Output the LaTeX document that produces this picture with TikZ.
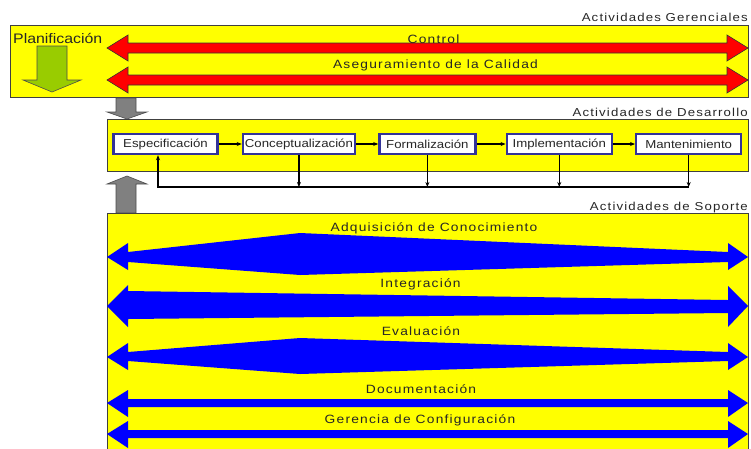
\documentclass[tikz,border=0pt]{standalone}
\usepackage{fontspec}
\setmainfont{Liberation Sans}[FakeStretch=1.15]
\newfontfamily\headfont{Liberation Sans}[FakeStretch=1.15,LetterSpace=10]
\usepackage{xcolor}
\usepackage{tikz}
\usetikzlibrary{arrows.meta,positioning,calc}

\definecolor{actyellow}{RGB}{255,255,0}
\definecolor{actblue}{RGB}{0,0,255}
\definecolor{actred}{RGB}{255,0,0}
\definecolor{actgreen}{RGB}{153,204,0}
\definecolor{boxblue}{RGB}{51,51,153}

\begin{document}
\begin{tikzpicture}[
    x=1pt, y=-1pt,
    every node/.style={font=\fontsize{11.5}{13}\selectfont, text=black!85},
    area/.style={draw=black!75, line width=0.8pt, fill=actyellow},
    heading/.style={anchor=base east, inner sep=0pt, font=\headfont\fontsize{11.5}{13}\selectfont},
    lbl/.style={anchor=base, inner sep=0pt, font=\headfont\fontsize{12}{14}\selectfont},
    stage/.style={draw=boxblue, line width=2.4pt, fill=white, minimum height=20pt, inner xsep=2pt, inner ysep=0pt},
    redarr/.style={draw=black!80, line width=0.6pt, fill=actred},
    bluearr/.style={fill=actblue},
    grayarr/.style={draw=black!70, line width=0.6pt, fill=black!50},
    flow/.style={line width=1.2pt, -{Stealth[length=5pt,width=4pt]}}
  ]
    \useasboundingbox (0,0) rectangle (751,448);

    % Actividades Gerenciales
    \draw[area] (10,25) rectangle (748,97);
    \node[heading] (gerencial) at (748,21.5) {Actividades Gerenciales};
    \node[anchor=base west, inner sep=0pt, font=\fontsize{13.8}{15}\selectfont] (planif) at (13,43) {Planificación};
    \fill[actgreen, draw=black!70, line width=0.6pt] (37,46) -- (67,46) -- (67,80) -- (81,80) -- (52,92) -- (23,80) -- (37,80) -- cycle;
    \draw[redarr] (107,48) -- (128,35) -- (128,43) -- (727,43) -- (727,35) -- (748,48) -- (727,61) -- (727,53) -- (128,53) -- (128,61) -- cycle;
    \draw[redarr] (107,80) -- (128,67) -- (128,75) -- (727,75) -- (727,67) -- (748,80) -- (727,93) -- (727,85) -- (128,85) -- (128,93) -- cycle;
    \node[lbl] (control) at (433.5,43) {Control};
    \node[lbl] (calidad) at (435.5,68.5) {Aseguramiento de la Calidad};

    % flechas grises
    \draw[grayarr] (116,98) -- (136,98) -- (136,112) -- (147,112) -- (127,119) -- (107,112) -- (116,112) -- cycle;
    \draw[grayarr] (116,213) -- (136,213) -- (136,184) -- (147,184) -- (127,176) -- (107,184) -- (116,184) -- cycle;

    % Actividades de Desarrollo
    \draw[area] (107,119) rectangle (748,171);
    \node[heading] (desarrollo) at (748,116) {Actividades de Desarrollo};
    \node[stage, minimum width=104pt] (espec) at (165.5,144) {Especificación};
    \node[stage, minimum width=110pt, right=23pt of espec] (concep) {Conceptualización};
    \node[stage, minimum width=96pt, right=22pt of concep] (formal) {Formalización};
    \node[stage, minimum width=105pt, right=29pt of formal] (implem) {Implementación};
    \node[stage, minimum width=105pt, right=22pt of implem] (mant) {Mantenimiento};
    \draw[flow] (espec) -- (concep);
    \draw[flow] (concep) -- (formal);
    \draw[flow] (formal) -- (implem);
    \draw[flow] (implem) -- (mant);
    \coordinate (retorno) at (158,187);
    \foreach \s in {concep,formal,implem,mant}
      \draw[flow] (\s.south) -- (\s.south |- retorno);
    \draw[flow] (mant.south |- retorno) -- (retorno) -- (retorno |- espec.south);

    % Actividades de Soporte
    \draw[area] (107,213) rectangle (748,452);
    \node[heading] (soporte) at (748,210) {Actividades de Soporte};
    \fill[bluearr] (107,257) -- (128,243) -- (128,252) -- (300,233) -- (728,252) -- (728,243) -- (748,257) -- (728,270) -- (728,262) -- (300,275) -- (128,262) -- (128,270) -- cycle;
    \fill[bluearr] (107,306) -- (128,285) -- (128,291) -- (728,300) -- (728,286) -- (748,306) -- (728,327) -- (728,313) -- (128,319) -- (128,327) -- cycle;
    \fill[bluearr] (107,357) -- (128,343) -- (128,352) -- (300,338) -- (728,352) -- (728,343) -- (748,357) -- (728,370) -- (728,361) -- (300,374) -- (128,361) -- (128,370) -- cycle;
    \fill[bluearr] (107,403) -- (128,390) -- (128,399) -- (728,399) -- (728,390) -- (748,403) -- (728,417) -- (728,407) -- (128,407) -- (128,417) -- cycle;
    \fill[bluearr] (107,434) -- (128,421) -- (128,430) -- (728,430) -- (728,421) -- (748,434) -- (728,448) -- (728,438) -- (128,438) -- (128,448) -- cycle;
    \node[lbl] (adquis) at (434,231) {Adquisición de Conocimiento};
    \node[lbl] (integr) at (420.5,287.5) {Integración};
    \node[lbl] (evalua) at (421,335) {Evaluación};
    \node[lbl] (docum) at (421,393) {Documentación};
    \node[lbl] (config) at (420,423) {Gerencia de Configuración};
  \end{tikzpicture}
\end{document}
